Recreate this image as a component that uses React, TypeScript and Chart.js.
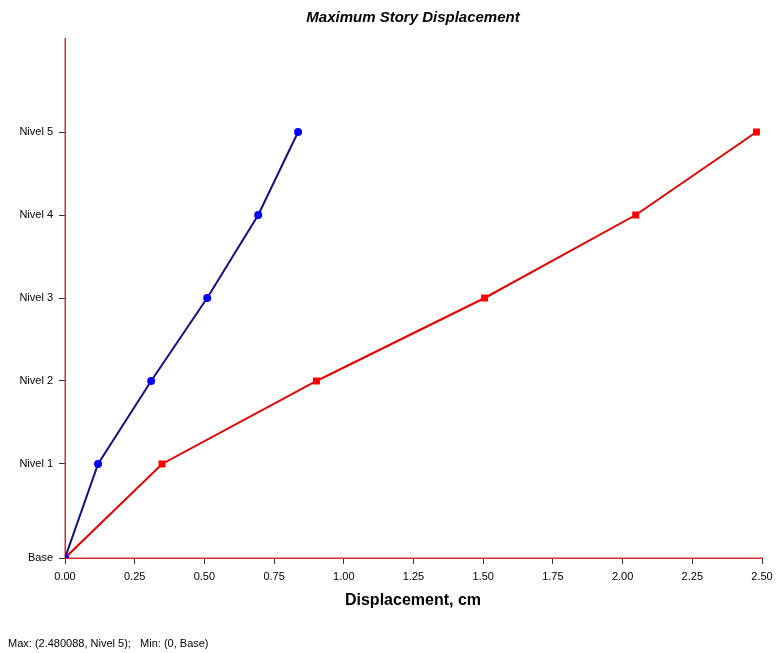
import React, { useEffect, useRef } from "react";
import { Chart, registerables } from "chart.js";

Chart.register(...registerables);

const storyLabels = ["Base", "Nivel 1", "Nivel 2", "Nivel 3", "Nivel 4", "Nivel 5"];
const storyElevations = [0, 3.4, 6.4, 9.4, 12.4, 15.4];
const elevationMax = 18.8;
const dispBlue = [0, 0.1185, 0.309, 0.51, 0.693, 0.836];
const dispRed = [0, 0.348, 0.902, 1.505, 2.047, 2.480088];
const titleText = "Maximum Story Displacement";
const xTitleText = "Displacement, cm";
const footerText = "Max: (2.480088, Nivel 5);   Min: (0, Base)";

const FONT = "'Liberation Sans', Arial, sans-serif";
const AXIS_COLOR = "#d03030";

export default function App() {
  const ref = useRef<HTMLCanvasElement | null>(null);
  useEffect(() => {
    const canvas = ref.current;
    if (!canvas) return;
    const textPlugin = {
      id: "texts",
      beforeDatasetsDraw(chart: any) {
        const ctx = chart.ctx;
        const a = chart.chartArea;
        ctx.save();
        ctx.strokeStyle = AXIS_COLOR;
        ctx.lineWidth = 1.5;
        ctx.beginPath();
        const lx = Math.round(a.left) + 0.25;
        const by = Math.round(a.bottom) + 0.25;
        ctx.moveTo(lx, Math.round(a.top));
        ctx.lineTo(lx, by);
        ctx.lineTo(Math.round(a.right) + 1, by);
        ctx.stroke();
        ctx.restore();
      },
      afterDraw(chart: any) {
        const ctx = chart.ctx;
        ctx.save();
        ctx.fillStyle = "#000";
        ctx.textBaseline = "middle";
        ctx.textAlign = "center";
        ctx.font = `italic bold 15px ${FONT}`;
        ctx.fillText(titleText, 413, 18);
        ctx.font = `bold 16px ${FONT}`;
        ctx.fillText(xTitleText, 413, 601);
        ctx.textAlign = "left";
        ctx.font = `11px ${FONT}`;
        ctx.fillText(footerText, 8, 644);
        ctx.restore();
      },
    };
    const chart = new Chart(canvas, {
      type: "line",
      data: {
        datasets: [
          {
            data: dispBlue.map((x, i) => ({ x, y: storyElevations[i] })),
            borderColor: "#101080",
            backgroundColor: "#0000ff",
            pointBackgroundColor: "#0000ff",
            pointBorderColor: "#0000ff",
            pointStyle: "circle",
            pointRadius: 3,
            borderWidth: 2,
          },
          {
            data: dispRed.map((x, i) => ({ x, y: storyElevations[i] })),
            borderColor: "#e00000",
            backgroundColor: "#ff0000",
            pointBackgroundColor: "#ff0000",
            pointBorderColor: "#ff0000",
            pointStyle: "rect",
            pointRadius: 3.5,
            borderWidth: 2,
          },
        ],
      },
      options: {
        responsive: false,
        animation: false,
        layout: { padding: { left: 0, top: 38, right: 14, bottom: 0 } },
        plugins: { legend: { display: false }, tooltip: { enabled: false }, title: { display: false } },
        scales: {
          x: {
            type: "linear",
            min: 0,
            max: 2.5,
            border: { display: false },
            grid: { drawOnChartArea: false, drawTicks: true, tickLength: 6, color: "#333" },
            ticks: {
              stepSize: 0.25,
              color: "#000",
              font: { family: FONT, size: 11 },
              padding: 6,
              maxRotation: 0,
              callback: (v: any) => Number(v).toFixed(2),
            },
            afterFit: (s: any) => {
              s.height = 95;
              s.paddingLeft = 0;
              s.paddingRight = 0;
            },
          },
          y: {
            type: "linear",
            min: 0,
            max: elevationMax,
            border: { display: false },
            grid: { drawOnChartArea: false, drawTicks: true, tickLength: 6, color: "#333" },
            afterBuildTicks: (s: any) => {
              s.ticks = storyElevations.map((v) => ({ value: v }));
            },
            ticks: {
              color: "#000",
              font: { family: FONT, size: 11 },
              padding: 6,
              callback: (v: any) => {
                const i = storyElevations.indexOf(Number(v));
                return i >= 0 ? storyLabels[i] : "";
              },
            },
            afterFit: (s: any) => {
              s.width = 65;
              s.paddingTop = 0;
              s.paddingBottom = 0;
            },
          },
        },
      },
      plugins: [textPlugin],
    });
    return () => chart.destroy();
  }, []);
  return (
    <div style={{ position: "fixed", left: 0, top: 0, width: 776, height: 653, background: "#fff" }}>
      <canvas ref={ref} width={776} height={653} style={{ display: "block" }} />
    </div>
  );
}
